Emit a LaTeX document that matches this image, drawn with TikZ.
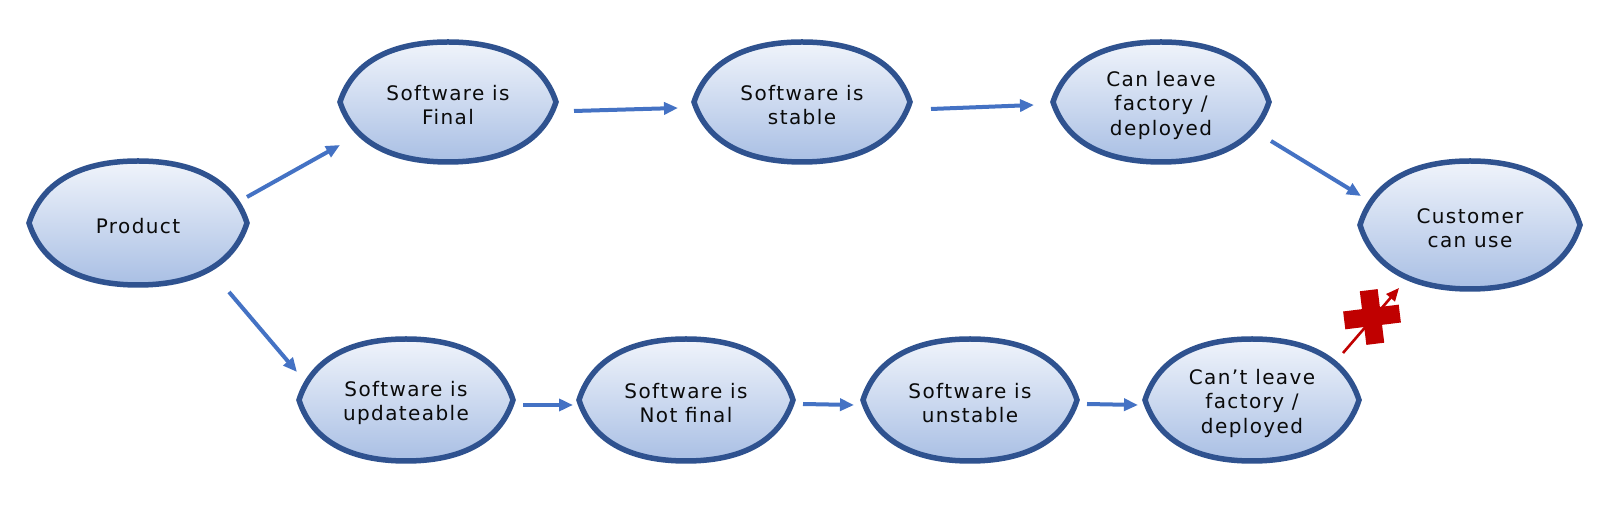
\documentclass[tikz,border=0pt]{standalone}
\usepackage{fontspec}
\setmainfont[LetterSpace=7]{DejaVu Sans}
\usetikzlibrary{arrows.meta}
\definecolor{lensborder}{HTML}{2F528F}
\definecolor{lenstop}{HTML}{F0F4FB}
\definecolor{lensbottom}{HTML}{A9BFE4}
\definecolor{arrowblue}{HTML}{4472C4}
\definecolor{crossred}{HTML}{C00000}
\definecolor{textblack}{HTML}{0A0A0A}
\tikzset{
  lensshape/.style={draw=lensborder, line width=5.5pt, top color=lenstop, bottom color=lensbottom},
  lenstext/.style={align=center, inner sep=0pt, text=textblack, yshift=-3pt, font=\fontsize{20}{24.5}\selectfont},
  flowarrow/.style={draw=arrowblue, line width=4pt, -{Triangle[length=14pt,width=12pt]}},
  blockarrow/.style={draw=crossred, line width=2.6pt, -{Triangle[length=13pt,width=11pt]}},
}
\newcommand{\lensnode}[6]{%
  \begin{scope}[shift={(#2,#3)}]
    \path[lensshape] ({-#4},0)
      .. controls ({-0.87*#4},{0.72*#5}) and ({-0.48*#4},{#5}) .. (0,{#5})
      .. controls ({0.48*#4},{#5}) and ({0.87*#4},{0.72*#5}) .. ({#4},0)
      .. controls ({0.87*#4},{-0.72*#5}) and ({0.48*#4},{-#5}) .. (0,{-#5})
      .. controls ({-0.48*#4},{-#5}) and ({-0.87*#4},{-0.72*#5}) .. ({-#4},0) -- cycle;
  \end{scope}
  \node[lenstext] (#1) at (#2,#3) {#6};
}
\begin{document}
\begin{tikzpicture}[x=1pt,y=1pt]
\useasboundingbox (0,0) rectangle (1600,513);
\fill[white] (0,0) rectangle (1600,513);

\lensnode{P}{138}{290}{109}{62}{Product}
\lensnode{F}{448}{411}{108}{60}{Software is\\Final}
\lensnode{S}{802}{411}{108}{60}{Software is\\stable}
\lensnode{C}{1161}{411}{108}{60}{Can leave\\factory /\\deployed}
\lensnode{U}{1470}{288}{110}{64}{Customer\\can use}
\lensnode{D}{406}{113}{107}{61}{Software is\\updateable}
\lensnode{N}{686}{113}{107}{61}{Software is\\Not final}
\lensnode{T}{970}{113}{107}{61}{Software is\\unstable}
\lensnode{X}{1252}{113}{107}{61}{Can’t leave\\factory /\\deployed}

\draw[flowarrow] ([shift={(109,29)}]P.center) -- ([shift={(-108,-40)}]F.center);
\draw[flowarrow] ([shift={(126,-6)}]F.center) -- ([shift={(-124,-3)}]S.center);
\draw[flowarrow] ([shift={(129,-4)}]S.center) -- ([shift={(-127,0)}]C.center);
\draw[flowarrow] ([shift={(110,-36)}]C.center) -- ([shift={(-109,32)}]U.center);
\draw[flowarrow] ([shift={(91,-66)}]P.center) -- ([shift={(-109,31)}]D.center);
\draw[flowarrow] ([shift={(117,-2)}]D.center) -- ([shift={(-113,-2)}]N.center);
\draw[flowarrow] ([shift={(117,-1)}]N.center) -- ([shift={(-116,-2)}]T.center);
\draw[flowarrow] ([shift={(117,-1)}]T.center) -- ([shift={(-114,-2)}]X.center);
\draw[blockarrow] ([shift={(91,50)}]X.center) -- ([shift={(-71,-60)}]U.center);

\begin{scope}[shift={(1372,196)}, rotate=7]
  \fill[crossred] (-9,-27) rectangle (9,27);
  \fill[crossred] (-28,-9) rectangle (28,9);
\end{scope}
\end{tikzpicture}
\end{document}
